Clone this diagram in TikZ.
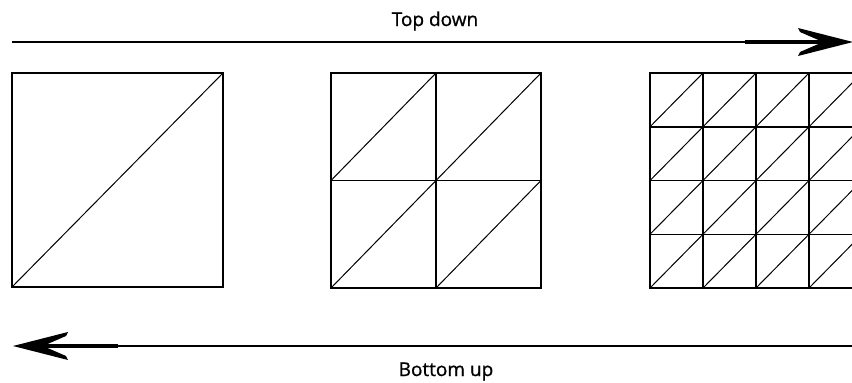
\documentclass[tikz,border=0pt]{standalone}
\usepackage{fontspec}
\setmainfont{Open Sans}
\newfontface\lblfont{Open Sans}[FakeBold=0.9]
\begin{document}
\begin{tikzpicture}[x=1pt,y=-1pt,
  outline/.style={line width=2.4pt},
  gridline/.style={line width=1.5pt},
  diag/.style={line width=1pt},
  shaft/.style={line width=2.8pt},
  thickshaft/.style={line width=4.5pt},
  barb/.style={fill=black},
  lbl/.style={font=\lblfont\fontsize{19}{22}\selectfont, inner sep=0pt, anchor=base}]
\useasboundingbox (0,0) rectangle (852,383);
\clip (0,0) rectangle (852,383);
% labels
\node[lbl] (top) at (435,26) {Top down};
\node[lbl] (bot) at (446,376) {Bottom up};
% top arrow (left to right)
\coordinate (ts) at (12,42);
\coordinate (tm) at (745,42);
\coordinate (te) at (853,42);
\draw[shaft] (ts) -- (tm);
\draw[thickshaft] (tm) -- ([xshift=-20pt]te);
\fill[barb] (te) -- ++(-55,-14) -- ++(2,4) -- ([xshift=-30pt]te) -- ++(-23,10) -- ++(-2,4) -- cycle;
% bottom arrow (right to left)
\coordinate (bs) at (852,346);
\coordinate (bm) at (118,346);
\coordinate (be) at (13,346);
\draw[shaft] (bs) -- (bm);
\draw[thickshaft] (bm) -- ([xshift=20pt]be);
\fill[barb] (be) -- ++(55,-14) -- ++(-2,4) -- ([xshift=30pt]be) -- ++(23,10) -- ++(2,4) -- cycle;
% square 1
\draw[diag] (12,287) -- (223,73);
\draw[outline] (12,73) rectangle (223,287);
% square 2
\foreach \i in {0,1} \foreach \j in {0,1} {
  \draw[diag] ({331+105*\i},{180.5+107.5*\j}) -- ({436+105*\i},{73+107.5*\j});
}
\draw[gridline] (436,73) -- (436,288);
\draw[gridline] (331,180.5) -- (541,180.5);
\draw[gridline] (331,73) rectangle (541,288);
% square 3 (cut off at the right)
\foreach \i in {0,...,4} \foreach \j in {0,...,3} {
  \draw[diag] ({650+53*\i},{126.75+53.75*\j}) -- ({703+53*\i},{73+53.75*\j});
}
\foreach \i in {1,...,4} \draw[gridline] ({650+53*\i},73) -- ({650+53*\i},288);
\foreach \j in {1,2,3} \draw[gridline] (650,{73+53.75*\j}) -- (870,{73+53.75*\j});
\draw[gridline] (870,73) -- (650,73) -- (650,288) -- (870,288);
\end{tikzpicture}
\end{document}
